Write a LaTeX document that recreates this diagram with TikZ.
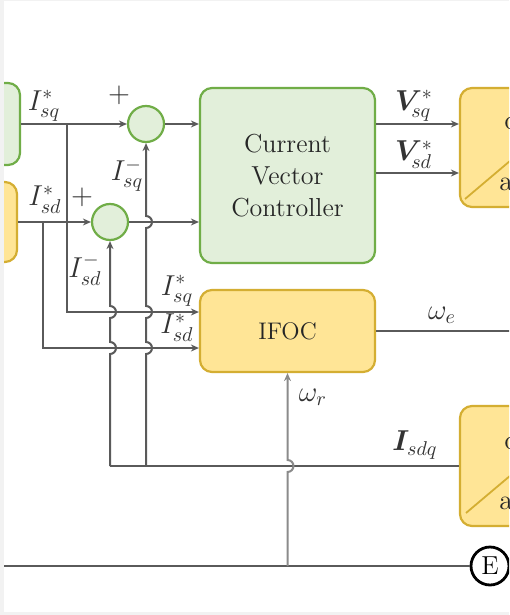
\documentclass[tikz,border=0pt]{standalone}
\usepackage{amsmath}
\usepackage{bm}
\usepackage{xcolor}
\usetikzlibrary{positioning, calc, arrows.meta}

\definecolor{boxgreen}{HTML}{E2EFDA}
\definecolor{boxgreenline}{HTML}{70AD47}
\definecolor{boxyellow}{HTML}{FFE596}
\definecolor{boxyellowline}{HTML}{D4AE32}
\definecolor{wiregray}{HTML}{5A5A5A}
\definecolor{margingray}{HTML}{F2F2F2}

\begin{document}
\begin{tikzpicture}[x=0.5pt, y=-0.5pt,
        gbox/.style={draw=boxgreenline, fill=boxgreen, line width=1.1pt,
                     rounded corners=6pt, inner sep=0pt, align=center,
                     text=black!85, font=\fontsize{13}{16}\selectfont},
        ybox/.style={gbox, draw=boxyellowline, fill=boxyellow},
        sumc/.style={circle, draw=boxgreenline, fill=boxgreen, line width=1.1pt,
                     minimum size=18pt, inner sep=0pt},
        wire/.style={draw=wiregray, line width=1pt},
        arr/.style={wire, -{Stealth[length=4pt, width=3.5pt]}},
        lbl/.style={font=\fontsize{14}{16}\selectfont, inner sep=0pt, text=black!80},
        plus/.style={font=\fontsize{14}{14}\selectfont, inner sep=0pt, text=black!80},
    ]
    \useasboundingbox (0,0) rectangle (509,615);
    \fill[margingray] (0,0) rectangle (509,615);
    \begin{scope}
        \clip (4,1) rectangle (509,612);
        \fill[white] (4,1) rectangle (509,612);

        % Blocks
        \node[gbox, minimum width=40pt, minimum height=41pt] (ctlq) at (-20,124) {};
        \node[ybox, minimum width=38.5pt, minimum height=40pt] (ctld) at (-21.5,222) {};
        \node[sumc] (sumq) at (146,124) {};
        \node[sumc] (sumd) at (110,222) {};
        \node[gbox, minimum width=87.5pt, minimum height=87.5pt] (cvc) at (287.5,175.5)
            {Current\\Vector\\Controller};
        \node[ybox, minimum width=87.5pt, minimum height=41pt,
              font=\fontsize{12}{14}\selectfont] (ifoc) at (287.5,331) {IFOC};
        \node[ybox, minimum width=60pt, minimum height=59.5pt] (invt) at (520,147.5) {};
        \node[ybox, minimum width=60pt, minimum height=60pt] (invb) at (520,466) {};
        \node[circle, draw=black, line width=1.4pt, fill=white, minimum size=19pt,
              inner sep=0pt, font=\fontsize{13}{13}\selectfont] (ebus) at (490,566) {E};

        % Diagonals and partly visible texts of the right blocks
        \draw[boxyellowline, line width=0.9pt] (465,199) -- (530,144);
        \draw[boxyellowline, line width=0.9pt] (466,513) -- (530,459);
        \node[lbl, anchor=west, text=black!85] (invttop) at (504,120) {dc};
        \node[lbl, anchor=west, text=black!85] (invtbot) at (499,184) {ac};
        \node[lbl, anchor=west, text=black!85] (invbtop) at (504,440) {dc};
        \node[lbl, anchor=west, text=black!85] (invbbot) at (499,503) {ac};

        % Coordinates for branches
        \coordinate (bq) at (67,124);
        \coordinate (bd) at (43,222);
        \coordinate (ifq) at (ifoc.west |- 0,312);
        \coordinate (ifd) at (ifoc.west |- 0,348);
        \coordinate (fbd) at (110,466);
        \coordinate (fbq) at (146,466);
        \coordinate (gl) at (4,566);
        \coordinate (wr) at (287.5,566);
        \coordinate (we) at (515,331);

        % Reference paths
        \draw[arr] (ctlq) -- (sumq);
        \draw[arr] (ctld) -- (sumd);
        \draw[arr] (bq) |- (ifq);
        \draw[arr] (bd) |- (ifd);
        \draw[arr] (sumq) -- (cvc.west |- sumq);
        \draw[arr] (sumd) -- (cvc.west |- sumd);
        \draw[arr] (cvc.east |- 0,124) -- (invt.west |- 0,124);
        \draw[arr] (cvc.east |- 0,173) -- (invt.west |- 0,173);
        \draw[wire] (ifoc.east) -- (we);

        % Feedback paths with hops
        \draw[wire] (invb.west) -- (fbd);
        \draw[arr] (fbq) -- (146,354) arc[start angle=-90, end angle=90, radius=3pt]
            -- (146,318) arc[start angle=-90, end angle=90, radius=3pt]
            -- (146,228) arc[start angle=-90, end angle=90, radius=3pt]
            -- (sumq.south);
        \draw[arr] (fbd) -- (110,354) arc[start angle=-90, end angle=90, radius=3pt]
            -- (110,318) arc[start angle=-90, end angle=90, radius=3pt]
            -- (sumd.south);
        \draw[wire] (gl) -- (ebus.west);
        \draw[arr, draw=wiregray!70] (wr) -- (287.5,472) arc[start angle=-90, end angle=90, radius=3pt]
            -- (ifoc.south);

        % Signal labels
        \node[lbl] (lisq) at (44,106) {$I_{sq}^{*}$};
        \node[plus] (pq) at (119,95) {$+$};
        \node[lbl] (lisqm) at (127,175) {$I_{sq}^{-}$};
        \node[lbl] (lisd) at (45,200) {$I_{sd}^{*}$};
        \node[plus] (pd) at (82,197) {$+$};
        \node[lbl] (lisdm) at (85,270) {$I_{sd}^{-}$};
        \node[lbl] (lisqf) at (177,291) {$I_{sq}^{*}$};
        \node[lbl] (lisdf) at (177,328) {$I_{sd}^{*}$};
        \node[lbl] (lvsq) at (414,106) {$\bm{V}_{\!sq}^{*}$};
        \node[lbl] (lvsd) at (414,155) {$\bm{V}_{\!sd}^{*}$};
        \node[lbl] (lwe) at (442,315) {$\omega_{e}$};
        \node[lbl] (lwr) at (313,397) {$\omega_{r}$};
        \node[lbl] (lisdq) at (415,445) {$\bm{I}_{sdq}$};
    \end{scope}
\end{tikzpicture}
\end{document}
